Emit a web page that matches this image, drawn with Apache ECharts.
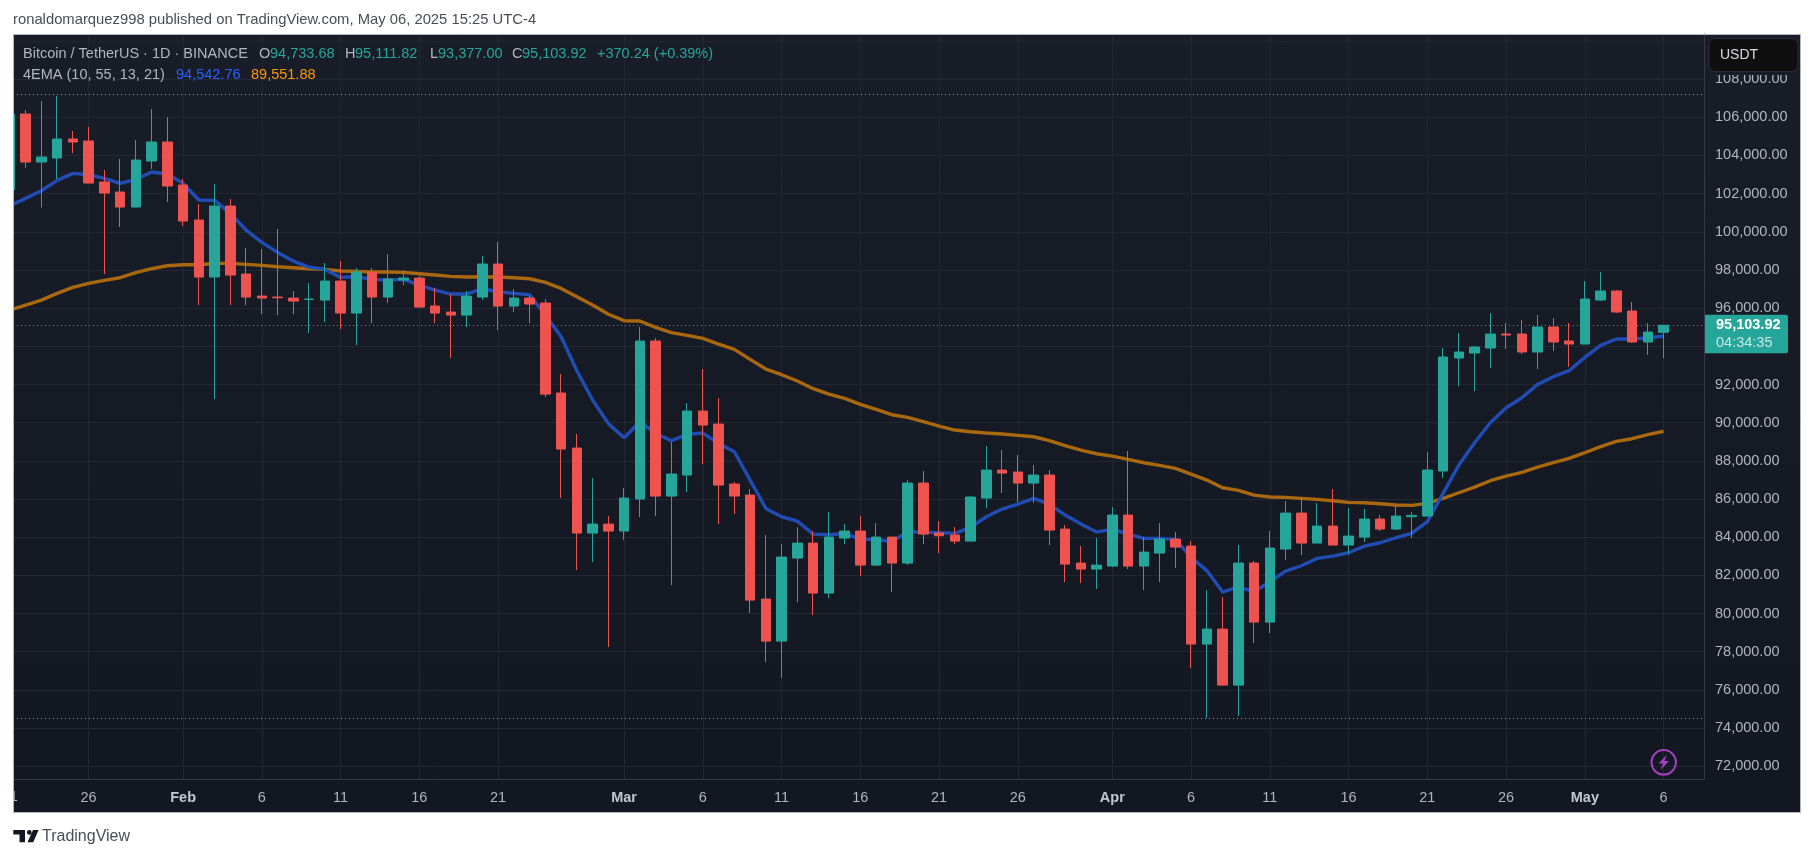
<!DOCTYPE html>
<html>
<head>
<meta charset="utf-8">
<title>BTCUSDT 1D</title>
<script src="https://cdn.jsdelivr.net/npm/echarts@6/dist/echarts.min.js"></script>
<style>
    html, body { margin: 0; padding: 0; background: #fff; }
    #chart { width: 1814px; height: 858px; }
</style>
</head>
<body>
<div id="chart"></div>
<script>
// daily candles, Jan 21 to May 6 2025
const opens = [
    102190, 106173, 103657, 103867, 104863, 104758, 102609, 102085, 101299, 103710, 104706,
    102452, 100618, 97631, 101352, 97788, 96634, 96582, 96530, 96460, 96425, 97421, 95744, 97892, 96582,
    97473, 97578, 96110, 95796, 95639, 96582, 98312, 96110, 96530, 96268, 91554, 88671, 84216, 84687,
    84320, 85998, 94278, 86155, 87255, 90609, 89928, 86784, 86207, 80757, 78555, 82905, 83691, 81071,
    83953, 84320, 82538, 84006, 82643, 86836, 84216, 84110, 83796, 86050, 87517, 87413, 86836, 87255,
    84425, 82643, 82329,
    82486, 85159, 82486, 83167, 83901, 83534, 78399, 79185, 76249, 82644, 79551, 83377, 85264, 83692,
    84583, 83587, 84006, 84950, 84426, 85072, 85107, 87466, 93388, 93650, 93912, 94645, 94645, 93702,
    95012, 94279,
    94121, 96427, 96899, 95851, 94226, 94733.68
];
const closes = [
    106173, 103657, 103920, 104863, 104706, 102557, 102033, 101299, 103762, 104706, 102400,
    100565, 97631, 101352, 97735, 96582, 96530, 96547, 96373, 96478, 97421, 95744, 97892, 96582, 97526,
    97578, 96058, 95744, 95639, 96634, 98312, 96110, 96530, 96215, 91498, 88619, 84216, 84688, 84320,
    86050, 94278, 86155, 87308, 90609, 89876, 86731, 86155, 80704, 78555, 82958, 83691, 81071, 84006,
    84320, 82538, 84006, 82643, 86836, 84163, 84076, 83796, 86102, 87517, 87360, 86836, 87255, 84373,
    82590, 82329, 82538,
    85159, 82486, 83219, 83901, 83482, 78398, 79185, 76249, 82644, 79551, 83430, 85264, 83692, 84583,
    83587, 84059, 84950, 84426, 85107, 85142, 87518, 93440, 93702, 93964, 94645, 94593, 93702, 95012,
    94226, 94121,
    96480, 96899, 95798, 94226, 94750, 95103.92
];
const lows = [
    101800, 103361, 101264, 102767, 104129, 102557, 97788, 100251, 101299, 103291, 101561,
    100303, 96163, 91236, 96163, 96163, 95692, 95639, 95692, 94696, 95272, 94905, 94067, 95220, 96268,
    97211, 96058, 95220, 93385, 95010, 96425, 94853, 95796, 95220, 91341, 86051, 82277, 82696, 78241,
    83849, 85054, 85107, 81490, 86364, 87832, 84687, 85211, 80023, 77454, 76616, 80599, 79918, 80809,
    83639, 81962, 82486, 81123, 82538, 83639, 83167, 83639, 83796, 85526, 86312, 85840, 85788, 83586,
    81648, 81595, 81280,
    82434, 82329, 81228, 81648, 82381, 77140, 74520, 76249, 74625, 78451, 78975, 82801, 83063, 83692,
    83587, 83115, 83744, 84321, 84373, 83954, 85107, 87099, 91920, 91658, 92864, 93859, 93597, 92811,
    93754, 92916,
    94121, 96375, 95746, 94174, 93545, 93377
];
const highs = [
    106500, 106383, 106855, 107117, 105282, 105492, 103238, 103815, 104811, 106435, 106016,
    102767, 101456, 102505, 101718, 99150, 99098, 100146, 96897, 97316, 98364, 98469, 98102, 98102, 98836,
    97997, 97683, 97054, 96740, 96897, 98731, 99465, 97002, 96635, 96477, 92550, 89405, 87099, 85107,
    86574, 95012, 94435, 88985, 91029, 92811, 91291, 86889, 86521, 84110, 83639, 84530, 84320, 85316,
    84687, 85107, 84740, 84006, 86994, 87465, 84844, 84530, 86155, 88775, 88565, 88303, 87779, 87517,
    84635, 83534, 83953,
    85579, 88513, 84006, 84740, 84268, 83796, 81228, 80861, 83587, 82749, 84321, 85893, 86103, 85788,
    86522, 85526, 85474, 85159, 85683, 85316, 88461, 93912, 94698, 94017, 95746, 95222, 95379, 95641,
    95484, 95222,
    97423, 97895, 96951, 96323, 95222, 95111.82
];
// EMA 10
const emaFast = [
    101369, 101753, 102155, 102697, 103064, 102994, 102802, 102540, 102749, 103134, 103029,
    102540, 101666, 101648, 100967, 100094, 99447, 98923, 98469, 98154, 98032, 97613, 97648, 97508, 97473,
    97508, 97211, 96949, 96740, 96740, 97019, 96862, 96775, 96705, 95639, 94503, 92724, 91187, 89950,
    89212, 90050, 89439, 89055, 89387, 89456, 88915, 88478, 86993, 85508, 85071, 84844, 84163, 84128,
    84198, 83901, 83883, 83761, 84285, 84268, 84233, 84198, 84512, 85071, 85473, 85736, 86032, 85736,
    85159, 84687, 84268,
    84425, 84163, 83936, 83936, 83883, 82940, 82250, 81124, 81403, 81141, 81665, 82224, 82504, 82888,
    83011, 83185, 83535, 83709, 83971, 84198, 84810, 86295, 87780, 88950, 89998, 90785, 91309, 92007,
    92409, 92724,
    93423, 94051, 94383, 94383, 94436, 94542.76
];
// EMA 55
const emaSlow = [
    95901, 96163, 96425, 96775, 97089, 97298, 97456, 97596, 97858, 98067, 98224,
    98277, 98277, 98347, 98347, 98294, 98242, 98172, 98119, 98067, 98032, 97945, 97928, 97892, 97892,
    97875, 97805, 97735, 97665, 97631, 97648, 97631, 97596, 97543, 97351, 97036, 96600, 96163, 95684,
    95344, 95326, 94994, 94715, 94575, 94418, 94121, 93841, 93317, 92811, 92514, 92182, 91780, 91500,
    91273, 90959, 90697, 90418, 90278, 90050, 89823, 89614, 89526, 89456, 89404, 89334, 89264, 89055,
    88793, 88565, 88373,
    88251, 88076, 87902, 87762, 87605, 87307, 86994, 86592, 86452, 86207, 86103, 86085, 86033, 85981,
    85911, 85823, 85806, 85753, 85684, 85666, 85771, 86033, 86330, 86627, 86959, 87203, 87395, 87675,
    87902, 88129,
    88426, 88741, 89020, 89160, 89370, 89551.88
];

// x ticks are day numbers counted from Jan 21
const xTicks = [5, 11, 16, 21, 26, 31, 39, 44, 49, 54, 59, 64, 70, 75, 80, 85, 90, 95, 100, 105];
const xLabels = ['26', 'Feb', '6', '11', '16', '21', 'Mar', '6', '11', '16', '21', '26', 'Apr', '6', '11', '16', '21', '26', 'May', '6'];
const priceLines = [72000, 74000, 76000, 78000, 80000, 82000, 84000, 86000, 88000, 90000, 92000, 94000,
    96000, 98000, 100000, 102000, 104000, 106000, 108000, 110000];
// 94,000 sits under the price tag and 110,000 under the USDT box
const priceLabels = [72000, 74000, 76000, 78000, 80000, 82000, 84000, 86000, 88000, 90000, 92000,
    96000, 98000, 100000, 102000, 104000, 106000, 108000];

const visibleHigh = 107204;
const visibleLow = 74502;
const lastClose = 95103.92;

const candles = opens.map((o, i) => [i, o, closes[i], lows[i], highs[i]]);
const fastLine = emaFast.map((v, i) => [i, v]);
const slowLine = emaSlow.map((v, i) => [i, v]);

const FONT = '"Liberation Sans", Arial, sans-serif';
const UP = '#26a69a';
const DOWN = '#ef5350';
const GREY = '#b2b5be';

function fmt(v) {
    return v.toLocaleString('en-US', { minimumFractionDigits: 2, maximumFractionDigits: 2 });
}

function text(x, y, str, color, size, extra) {
    return {
        type: 'text', x: x, y: y, z: 50, silent: true,
        style: Object.assign({
            text: str, fill: color, font: (size || 14.5) + 'px ' + FONT, textVerticalAlign: 'middle'
        }, extra || {})
    };
}

const chart = echarts.init(document.getElementById('chart'));

chart.setOption({
    animation: false,
    backgroundColor: '#ffffff',
    grid: { left: 13, top: 34, width: 1691, height: 745, containLabel: false },
    xAxis: {
        type: 'value',
        min: 0.2,
        max: 107.565,
        axisLine: { show: true, onZero: false, lineStyle: { color: '#363a45' } },
        axisTick: { show: false, customValues: xTicks },
        splitLine: { show: true, lineStyle: { color: '#232733' } },
        axisLabel: {
            customValues: xTicks,
            color: GREY,
            fontFamily: FONT,
            fontSize: 14.5,
            margin: 11,
            formatter: (v) => {
                const s = xLabels[xTicks.indexOf(v)];
                return isNaN(+s) ? '{m|' + s + '}' : s;
            },
            rich: { m: { fontWeight: 'bold', color: '#c4c7cf', fontFamily: FONT, fontSize: 14.5 } }
        }
    },
    yAxis: {
        type: 'value',
        position: 'right',
        min: 71330,
        max: 110366,
        axisLine: { show: true, onZero: false, lineStyle: { color: '#363a45' } },
        axisTick: { show: false, customValues: priceLines },
        splitLine: { show: true, lineStyle: { color: '#232733' } },
        axisLabel: {
            customValues: priceLabels,
            color: GREY,
            fontFamily: FONT,
            fontSize: 14.5,
            margin: 11,
            formatter: fmt
        }
    },
    series: [
        {
            type: 'line', name: 'EMA 55', data: slowLine, z: 1, showSymbol: false, silent: true,
            lineStyle: { color: '#a9680e', width: 3.4 }
        },
        {
            type: 'line', name: 'EMA 10', data: fastLine, z: 1, showSymbol: false, silent: true,
            lineStyle: { color: '#214cb4', width: 3.4 }
        },
        {
            type: 'candlestick',
            name: 'BTCUSDT',
            data: candles,
            encode: { x: 0, y: [1, 2, 3, 4] },
            barWidth: 10,
            z: 3,
            itemStyle: { color: UP, color0: DOWN, borderColor: UP, borderColor0: DOWN, borderWidth: 1 },
            markLine: {
                silent: true,
                symbol: 'none',
                label: { show: false },
                animation: false,
                data: [
                    { yAxis: visibleHigh, lineStyle: { color: '#9598a1', type: [1, 3], width: 1 } },
                    { yAxis: visibleLow, lineStyle: { color: '#9598a1', type: [1, 3], width: 1 } },
                    { yAxis: lastClose, lineStyle: { color: UP, type: [1, 3], width: 1 } }
                ]
            }
        }
    ]
});

// overlays: frame, legend, price tag, logo
const lastY = chart.convertToPixel({ yAxisIndex: 0 }, lastClose);
const firstTickX = chart.convertToPixel({ xAxisIndex: 0 }, 0);

chart.setOption({
    graphic: { elements: [
        {
            type: 'rect', z: -10, silent: true,
            shape: { x: 13.5, y: 34.5, width: 1787, height: 778 },
            style: {
                fill: { type: 'linear', x: 0, y: 0, x2: 0, y2: 1, colorStops: [{ offset: 0, color: '#191d28' }, { offset: 1, color: '#131721' }] }
            }
        },
        text(13, 20, 'ronaldomarquez998 published on TradingView.com, May 06, 2025 15:25 UTC-4', '#4a4d55', 14.8),
        text(23, 53.5, 'Bitcoin / TetherUS · 1D · BINANCE', GREY),
        text(259, 53.5, 'O', GREY), text(270, 53.5, '94,733.68', UP),
        text(345, 53.5, 'H', GREY), text(355, 53.5, '95,111.82', UP),
        text(430, 53.5, 'L', GREY), text(438, 53.5, '93,377.00', UP),
        text(512, 53.5, 'C', GREY), text(522, 53.5, '95,103.92', UP),
        text(597, 53.5, '+370.24 (+0.39%)', UP),
        text(23, 75, '4EMA (10, 55, 13, 21)', GREY),
        text(176, 75, '94,542.76', '#2962ff'),
        text(251, 75, '89,551.88', '#ff9800'),
        // USDT box and the strip that cuts the 108,000 label
        {
            type: 'rect', z: 38, silent: true,
            shape: { x: 1705, y: 35, width: 95, height: 40 },
            style: { fill: '#191d28' }
        },
        {
            type: 'rect', z: 40, silent: true,
            shape: { x: 1709, y: 38.5, width: 89, height: 33, r: 6 },
            style: { fill: '#0f0f0f', stroke: '#2a2e39', lineWidth: 1 }
        },
        text(1720, 55, 'USDT', '#dcdde0', 14),
        // last price tag
        {
            type: 'rect', z: 40, silent: true,
            shape: { x: 1705, y: lastY - 10.5, width: 83, height: 38.5, r: [0, 2, 2, 0] },
            style: { fill: UP }
        },
        text(1716, lastY - 0.5, fmt(lastClose), '#ffffff', 14.5, { font: 'bold 14.5px ' + FONT }),
        text(1716, lastY + 17.5, '04:34:35', '#c4e8e4', 14.5),
        // clipped tick label at the left edge
        text(firstTickX, 796.5, '21', GREY, 14.5, { textAlign: 'center' }),
        { type: 'rect', z: 60, silent: true, shape: { x: 0, y: 30, width: 13, height: 785 }, style: { fill: '#fff' } },
        {
            type: 'rect', z: 61, silent: true,
            shape: { x: 13.5, y: 34.5, width: 1787, height: 778 },
            style: { fill: 'rgba(0,0,0,0)', stroke: '#b2b5be', lineWidth: 1 }
        },
        // lightning badge
        {
            type: 'circle', z: 40, silent: true,
            shape: { cx: 1663.7, cy: 762.3, r: 12.2 },
            style: { fill: 'rgba(0,0,0,0)', stroke: '#a63fc0', lineWidth: 2 }
        },
        {
            type: 'polygon', z: 40, silent: true,
            shape: { points: [[1667, 754.5], [1658.5, 763.5], [1663, 763.5], [1660.5, 770], [1669, 761], [1664.5, 761]] },
            style: { fill: '#a63fc0' }
        },
        // TradingView logo
        {
            type: 'polygon', z: 40, silent: true,
            shape: { points: [[13.3, 830], [25, 830], [25, 842.3], [19.5, 842.3], [19.5, 834.6], [13.3, 834.6]] },
            style: { fill: '#131722' }
        },
        { type: 'circle', z: 40, silent: true, shape: { cx: 29.3, cy: 832.4, r: 2.4 }, style: { fill: '#131722' } },
        {
            type: 'polygon', z: 40, silent: true,
            shape: { points: [[33, 830], [38.6, 830], [33.2, 842.3], [27.5, 842.3]] },
            style: { fill: '#131722' }
        },
        text(42, 837, 'TradingView', '#4a4d55', 16)
    ] }
});

window.addEventListener('resize', () => {
    chart.resize();
});
</script>
</body>
</html>
